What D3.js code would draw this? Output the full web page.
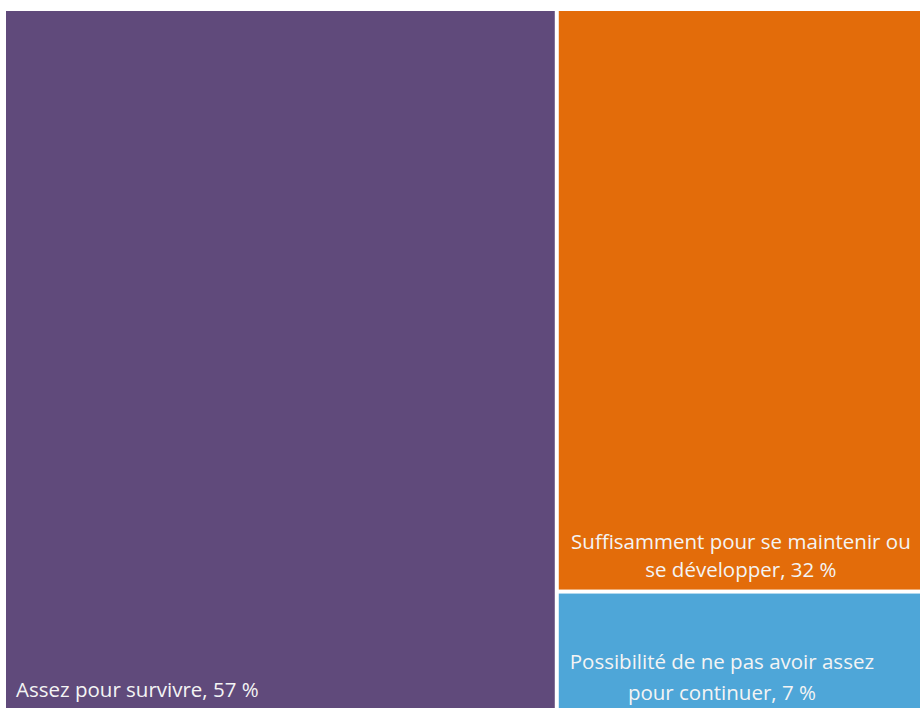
<!DOCTYPE html>
<html>
<head>
<meta charset="utf-8">
<title>Treemap</title>
<style>
  body { margin: 0; background: #fff; }
  svg { display: block; }
  .lbl { font-family: "Open Sans", sans-serif; font-size: 20.5px; fill: #f4f4f4; }
</style>
</head>
<body>
<script src="https://d3js.org/d3.v7.min.js"></script>
<script>
// data
var categories = ["Assez pour survivre", "Suffisamment pour se maintenir ou se développer", "Possibilité de ne pas avoir assez pour continuer"];
var values = [57, 32, 7];
var labelLines = [
  ["Assez pour survivre, 57 %"],
  ["Suffisamment pour se maintenir ou", "se développer, 32 %"],
  ["Possibilité de ne pas avoir assez", "pour continuer, 7 %"]
];
var colors = ["#604a7b", "#e36c0a", "#4ea6d8"];

var width = 920, height = 708;

var svg = d3.select("body").append("svg")
    .attr("width", width)
    .attr("height", height);

var rows = categories.map(function(c, i) {
  return { name: c, value: values[i], lines: labelLines[i], color: colors[i], idx: i };
});

var root = d3.hierarchy({ children: rows })
    .sum(function(d) { return d.value || 0; })
    .sort(function(a, b) { return b.value - a.value; });

// the plot area runs a bit past the right and bottom of the picture
d3.treemap()
    .tile(d3.treemapSquarify.ratio(1))
    .paddingInner(4)
    .size([927, 706])(root);

var g = svg.append("g").attr("transform", "translate(6,11)");

var cell = g.selectAll("g.cell")
  .data(root.leaves())
  .enter().append("g")
    .attr("class", "cell");

cell.append("rect")
    .attr("x", function(d) { return d.x0; })
    .attr("y", function(d) { return d.y0; })
    .attr("width", function(d) { return d.x1 - d.x0; })
    .attr("height", function(d) { return d.y1 - d.y0; })
    .attr("fill", function(d) { return d.data.color; });

// label placement: anchored to the visible bottom of each box
var lineH = [0, 28, 31];
var shiftX = [0, -5, -24];
var bottomPad = [11, 13, 8];
cell.each(function(d) {
  var sel = d3.select(this);
  var i = d.data.idx;
  var bottom = Math.min(d.y1, height - 11) - bottomPad[i];
  var n = d.data.lines.length;
  d.data.lines.forEach(function(t, k) {
    sel.append("text")
      .attr("class", "lbl")
      .attr("x", i === 0 ? d.x0 + 10 : (d.x0 + d.x1) / 2 + shiftX[i])
      .attr("y", bottom - (n - 1 - k) * lineH[i])
      .attr("text-anchor", i === 0 ? "start" : "middle")
      .text(t);
  });
});
</script>
</body>
</html>
